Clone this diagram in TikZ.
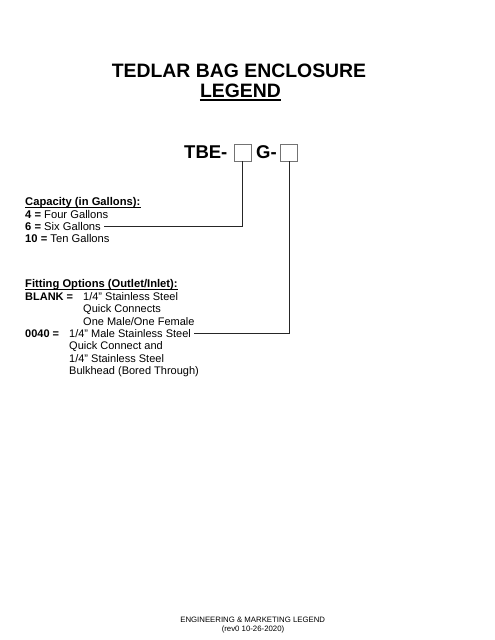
\documentclass[tikz,border=0pt]{standalone}
\usepackage{fontspec}
\setmainfont{Liberation Sans}
\begin{document}
\begin{tikzpicture}[x=1pt,y=-1pt]
\tikzset{
  txt/.style={anchor=base west, inner sep=0pt, font=\fontsize{11.2}{12}\selectfont},
  txtb/.style={txt, font=\bfseries\fontsize{11.2}{12}\selectfont},
  ftxt/.style={anchor=base west, inner sep=0pt, font=\fontsize{11}{12}\selectfont},
  ftxtb/.style={ftxt, font=\bfseries\fontsize{11}{12}\selectfont},
  ttl/.style={anchor=base, inner sep=0pt, font=\bfseries\fontsize{19.4}{20}\selectfont},
  code/.style={anchor=base west, inner sep=0pt, font=\bfseries\fontsize{18.5}{20}\selectfont},
  bx/.style={draw=black!55, line width=0.8pt, minimum size=17pt, inner sep=0pt},
  conn/.style={draw=black!85, line width=0.8pt},
  uline/.style={draw=black, line width=0.8pt},
  foot/.style={anchor=base, inner sep=0pt, font=\fontsize{7.8}{9}\selectfont},
}
\useasboundingbox[fill=white] (0,0) rectangle (495,640);

% title
\node[ttl] (t1) at (239,77.5) {TEDLAR BAG ENCLOSURE};
\node[ttl] (t2) at (240.5,97.5) {LEGEND};
\draw[uline, line width=1.4pt] ([yshift=-2.6pt]t2.base west) -- ([yshift=-2.6pt]t2.base east);

% code
\node[code] (tbe) at (184,158.5) {TBE-};
\node[bx] (b1) at (242.5,152.5) {};
\node[code] (g) at (256,158.5) {G-};
\node[bx] (b2) at (289,152.5) {};

% capacity
\node[txtb] (caph) at (25,205.5) {Capacity (in Gallons):};
\draw[uline] ([yshift=-2.3pt]caph.base west) -- ([yshift=-2.3pt]caph.base east);
\node[txt] (c4) at (25,218) {\textbf{4 =} Four Gallons};
\node[txt] (c6) at (25,230) {\textbf{6 =} Six Gallons};
\node[txt] (c10) at (25,242.5) {\textbf{10 =} Ten Gallons};

% fitting
\node[txtb] (fith) at (25,287.5) {Fitting Options (Outlet/Inlet):};
\draw[uline] ([yshift=-2.3pt]fith.base west) -- ([yshift=-2.3pt]fith.base east);
\node[ftxtb] (blank) at (25,300) {BLANK =};
\node[ftxt] (bl1) at (83,300) {1/4” Stainless Steel};
\node[ftxt] (bl2) at (83,312.5) {Quick Connects};
\node[ftxt] (bl3) at (83,325) {One Male/One Female};
\node[ftxtb] (o40) at (25,337.3) {0040 =};
\node[ftxt] (o1) at (69,337.3) {1/4” Male Stainless Steel};
\node[ftxt] (o2) at (69,349.7) {Quick Connect and};
\node[ftxt] (o3) at (69,362) {1/4” Stainless Steel};
\node[ftxt] (o4) at (69,374.5) {Bulkhead (Bored Through)};

% connectors
\draw[conn] (b1.south) |- ([xshift=2.5pt]c6.east);
\draw[conn] (b2.south) |- ([xshift=3pt]o1.east);

% footer
\node[foot] (f1) at (252.7,622) {ENGINEERING \& MARKETING LEGEND};
\node[foot] (f2) at (253,631) {(rev0 10-26-2020)};
\end{tikzpicture}
\end{document}
